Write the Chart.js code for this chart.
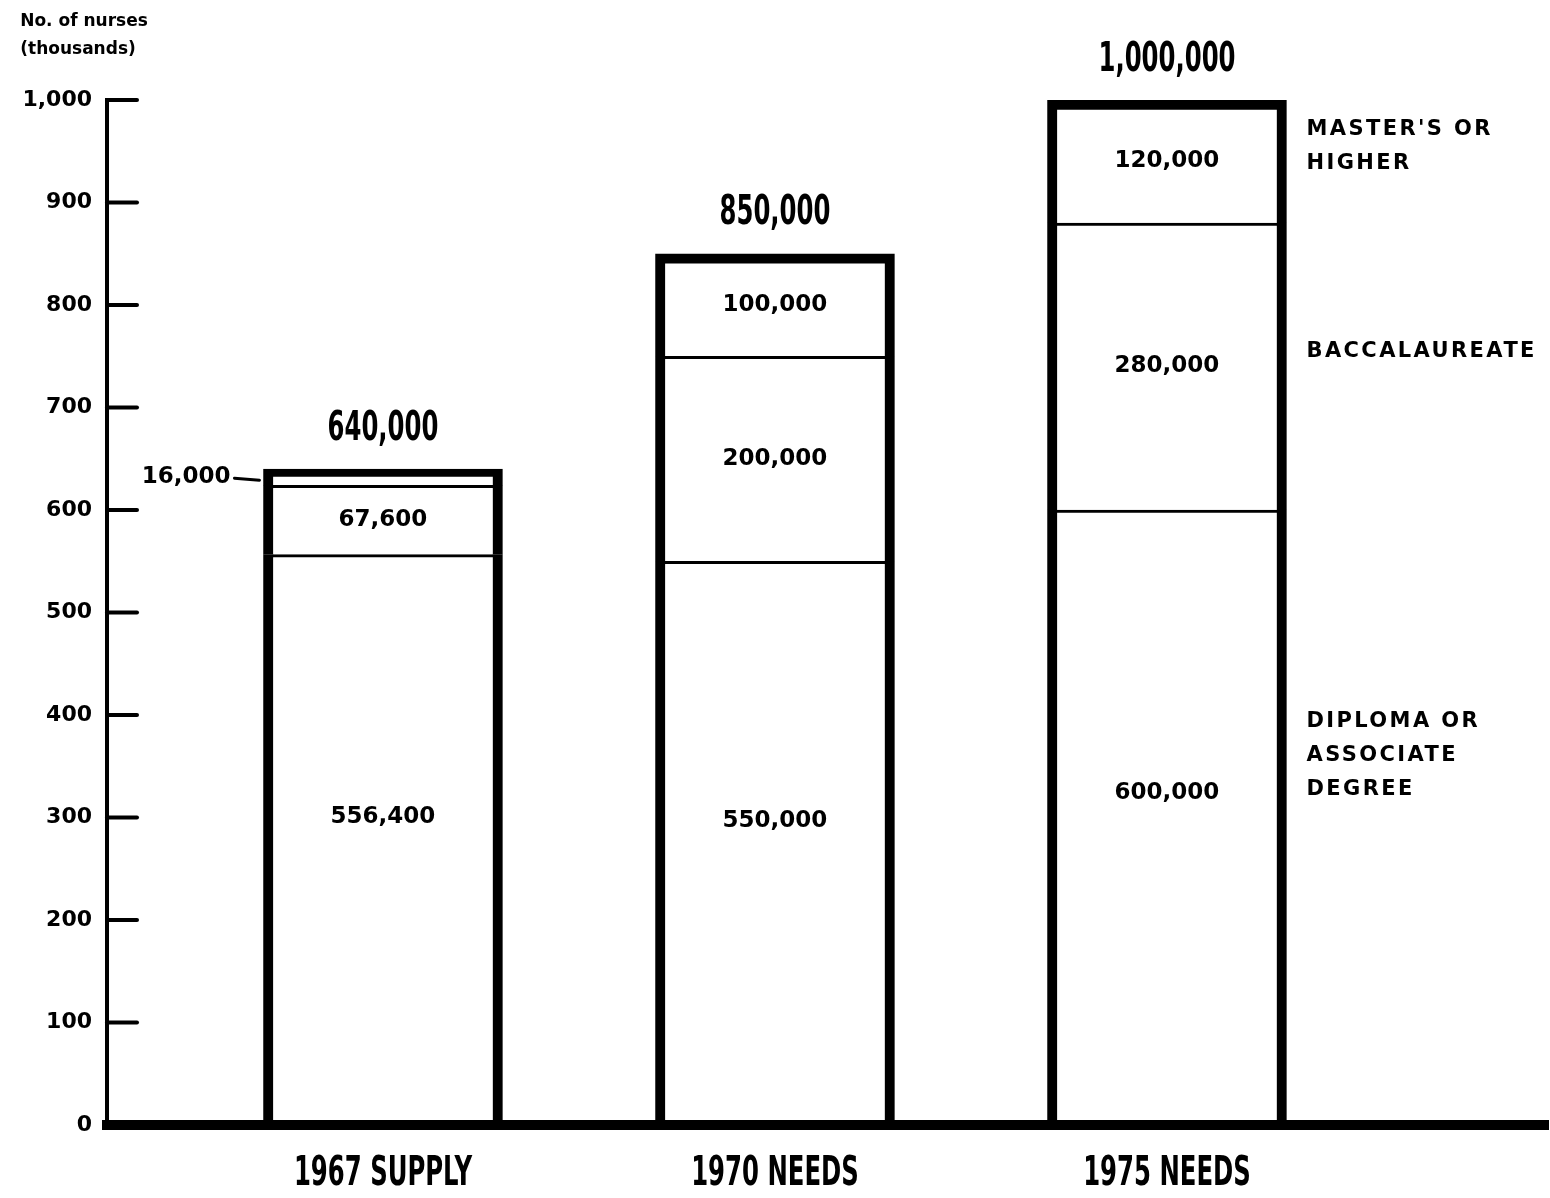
<!DOCTYPE html>
<html>
<head>
<meta charset="utf-8">
<script src="https://cdn.jsdelivr.net/npm/chart.js@4.4.1/dist/chart.umd.min.js"></script>
<style>
  html, body { margin: 0; padding: 0; background: #fff; }
  canvas { display: block; }
</style>
</head>
<body>
<canvas id="myChart" width="1550" height="1198"></canvas>
<script>
// Nurses by education level, in thousands
const categories = ['1967 SUPPLY', '1970 NEEDS', '1975 NEEDS'];
const diploma = [556.4, 550, 600];
const baccalaureate = [67.6, 200, 280];
const masters = [16, 100, 120];
const seriesNames = [
    ['DIPLOMA OR', 'ASSOCIATE', 'DEGREE'],
    ['BACCALAUREATE'],
    ["MASTER'S OR", 'HIGHER']
];
const yMax = 1000;
const yStep = 100;
const axisTitle = ['No. of nurses', '(thousands)'];

const BODY = '"DejaVu Sans", sans-serif';
const COND = '"DejaVu Sans Condensed", "DejaVu Sans", sans-serif';

function fmt(v) {
    return Math.round(v * 1000).toLocaleString('en-US');
}

function points(arr) {
    return arr.map((v, i) => ({ x: i, y: v }));
}

// tall narrow lettering, like the old stencil type
function narrowText(ctx, txt, x, y, sx) {
    ctx.save();
    ctx.translate(x, y);
    ctx.scale(sx, 1);
    ctx.fillText(txt, 0, 0);
    ctx.restore();
}

// white page behind everything
const bgPlugin = {
    id: 'whiteBg',
    beforeDraw: (chart) => {
        const { ctx } = chart;
        ctx.save();
        ctx.fillStyle = '#fff';
        ctx.fillRect(0, 0, chart.width, chart.height);
        ctx.restore();
    }
};

// tick marks pointing into the plot, value labels, totals, series names
const annotatePlugin = {
    id: 'annotate',
    afterDraw: (chart) => {
        const { ctx, chartArea, scales: { x, y } } = chart;
        ctx.save();

        // inward ticks
        ctx.strokeStyle = '#000';
        ctx.lineWidth = 4;
        ctx.lineCap = 'round';
        y.ticks.forEach(t => {
            if (t.value === 0) return;
            const py = y.getPixelForValue(t.value);
            ctx.beginPath();
            ctx.moveTo(chartArea.left, py);
            ctx.lineTo(chartArea.left + 30, py);
            ctx.stroke();
        });

        // axis title
        ctx.fillStyle = '#000';
        ctx.textAlign = 'center';
        ctx.textBaseline = 'middle';
        ctx.font = 'bold 17px ' + BODY;
        ctx.fillText(axisTitle[0], 84, 22);
        ctx.fillText(axisTitle[1], 78, 50);

        // segment values
        ctx.font = 'bold 23px ' + BODY;
        chart.data.datasets.forEach((ds, i) => {
            const meta = chart.getDatasetMeta(i);
            meta.data.forEach((bar, j) => {
                const p = bar.getProps(['x', 'y', 'base', 'width'], true);
                const f = i === 0 ? 0.54 : 0.5;
                const mid = p.base + (p.y - p.base) * f;
                const txt = fmt(ds.data[j].y);
                if (Math.abs(p.base - p.y) > 40) {
                    ctx.textAlign = 'center';
                    ctx.fillText(txt, p.x, mid);
                } else {
                    const left = p.x - p.width / 2;
                    ctx.textAlign = 'right';
                    ctx.fillText(txt, left - 33, mid);
                    ctx.lineWidth = 3;
                    ctx.beginPath();
                    ctx.moveTo(left - 29, mid + 1);
                    ctx.lineTo(left - 4, mid + 3);
                    ctx.stroke();
                }
            });
        });

        // totals above bars
        ctx.font = 'bold 41px ' + COND;
        ctx.textAlign = 'center';
        categories.forEach((c, j) => {
            const total = diploma[j] + baccalaureate[j] + masters[j];
            narrowText(ctx, fmt(total), x.getPixelForValue(j), y.getPixelForValue(total) - 40, 0.66);
        });

        // category names under the axis
        ctx.textBaseline = 'middle';
        categories.forEach((c, j) => {
            narrowText(ctx, c, x.getPixelForValue(j), chartArea.bottom + 49, 0.66);
        });

        // series names to the right of the last bar
        const last = chart.getDatasetMeta(0).data[categories.length - 1];
        const nx = last.x + last.width / 2 + 20;
        const anchors = [360, 755, 955];
        ctx.font = 'bold 21px ' + BODY;
        ctx.textAlign = 'left';
        if ('letterSpacing' in ctx) ctx.letterSpacing = '2.4px';
        seriesNames.forEach((lines, i) => {
            const cy = y.getPixelForValue(anchors[i]);
            const lh = 34;
            const y0 = cy - (lines.length - 1) * lh / 2;
            lines.forEach((ln, k) => ctx.fillText(ln, nx, y0 + k * lh));
        });

        ctx.restore();
    }
};

const segStyle = (top) => ({
    backgroundColor: '#fff',
    borderColor: '#000',
    borderSkipped: false,
    borderWidth: { left: 10, right: 10, top: top, bottom: 0 },
    barThickness: 239
});

const ctx = document.getElementById('myChart').getContext('2d');
const myChart = new Chart(ctx, {
    type: 'bar',
    data: {
        datasets: [
            Object.assign({ label: 'Diploma or associate degree', data: points(diploma) }, segStyle(3)),
            Object.assign({ label: 'Baccalaureate', data: points(baccalaureate) }, segStyle(3)),
            Object.assign({ label: "Master's or higher", data: points(masters) }, segStyle(10))
        ]
    },
    options: {
        responsive: false,
        animation: false,
        layout: { padding: { top: 100, right: 2, left: 0, bottom: 0 } },
        plugins: {
            legend: { display: false },
            tooltip: { enabled: false }
        },
        scales: {
            x: {
                type: 'linear',
                stacked: true,
                offset: false,
                min: -0.704,
                max: 2.972,
                afterFit: (s) => { s.height = 73; },
                grid: { display: false, drawTicks: false },
                border: { display: true, color: '#000', width: 10, z: 1 },
                ticks: {
                    display: false,
                    stepSize: 1,
                    includeBounds: false
                }
            },
            y: {
                stacked: true,
                min: 0,
                max: yMax,
                afterFit: (s) => { s.width = 107; },
                grid: { display: false, drawTicks: false },
                border: { display: true, color: '#000', width: 4 },
                ticks: {
                    stepSize: yStep,
                    padding: 15,
                    color: '#000',
                    font: { family: BODY, size: 22, weight: 'bold' },
                    callback: (v) => v.toLocaleString('en-US')
                }
            }
        }
    },
    plugins: [bgPlugin, annotatePlugin]
});
</script>
</body>
</html>
